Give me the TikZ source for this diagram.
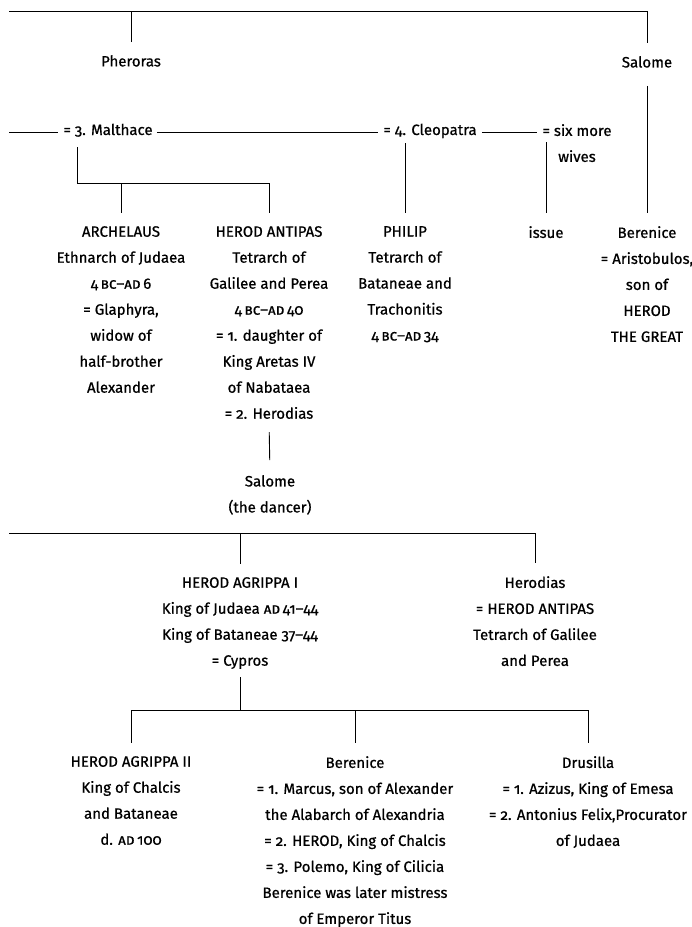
\documentclass[tikz,border=0pt]{standalone}
\usepackage{fontspec}
\setmainfont{Fira Sans}[Numbers=OldStyle, FakeBold=0.7]
\usetikzlibrary{calc}

\begin{document}
\begin{tikzpicture}[x=1pt, y=-1pt,
    person/.style={align=center, anchor=north, inner sep=0pt,
                   font=\fontsize{15}{26}\selectfont},
    spouse/.style={anchor=base, inner sep=0pt,
                   font=\fontsize{15}{26}\selectfont},
    kin/.style={line width=0.9pt},
    tonode/.style={kin, shorten >=13pt}
]
\useasboundingbox (0,0) rectangle (692,927);

% --- first generation ---
\coordinate (tl) at (9,11);
\node[person] (pheroras) at (131,55) {Pheroras};
\node[person] (salome)   at (647,56) {Salome};

% --- wives ---
\coordinate (ml) at (9,132);
\node[spouse] (malthace) at (108,135) {= 3. Malthace};
\node[spouse] (cleo)     at (430,135) {= 4. Cleopatra};
\node[person] (sixmore)  at (577,124) {= six more\\wives};

% --- children ---
\node[person] (archelaus) at (121,226)
  {ARCHELAUS\\Ethnarch of Judaea\\4\,\textsc{bc}--\textsc{ad}\,6\\= Glaphyra,\\
   widow of\\half-brother\\Alexander};
\node[person] (antipas)   at (269,226)
  {HEROD ANTIPAS\\Tetrarch of\\Galilee and Perea\\4\,\textsc{bc}--\textsc{ad}\,40\\
   = 1. daughter of\\King Aretas IV\\of Nabataea\\= 2. Herodias};
\node[person] (philip)    at (405,226)
  {PHILIP\\Tetrarch of\\Bataneae and\\Trachonitis\\4\,\textsc{bc}--\textsc{ad}\,34};
\node[person] (issue)     at (546,226) {issue};
\node[person] (berenice)  at (647,226)
  {Berenice\\= Aristobulos,\\son of\\HEROD\\THE GREAT};

\node[person] (dancer) at (270,475) {Salome\\(the dancer)};

% --- next generation ---
\coordinate (dl) at (9,533);
\node[person] (agrippa)  at (240,577)
  {HEROD AGRIPPA I\\King of Judaea \textsc{ad}\,41--44\\King of Bataneae 37--44\\= Cypros};
\node[person] (herodias) at (535,576)
  {Herodias\\= HEROD ANTIPAS\\Tetrarch of Galilee\\and Perea};

\coordinate (jc) at (240,710);
\node[person] (agrippatwo) at (131,756)
  {HEROD AGRIPPA II\\King of Chalcis\\and Bataneae\\d. \textsc{ad}\,100};
\node[person] (berenicetwo) at (355,756)
  {Berenice\\= 1. Marcus, son of Alexander\\the Alabarch of Alexandria\\
   = 2. HEROD, King of Chalcis\\= 3. Polemo, King of Cilicia\\
   Berenice was later mistress\\of Emperor Titus};
\node[person] (drusilla) at (588,756)
  {Drusilla\\= 1. Azizus, King of Emesa\\= 2. Antonius Felix,Procurator\\of Judaea};

% --- lines ---
\draw[tonode] (tl) -| (salome.north);
\draw[kin, shorten <=13pt] (pheroras.north) -- (pheroras.north |- tl);
\draw[kin, shorten <=18pt, shorten >=13pt] (salome.south) -- (berenice.north);

\draw[kin, shorten >=5pt] (ml) -- (malthace.west |- ml);
\draw[kin, shorten <=4pt, shorten >=5pt] (malthace.east |- ml) -- (cleo.west |- ml);
\draw[kin, shorten <=5pt, shorten >=5pt] (cleo.east |- ml) -- (sixmore.west |- ml);

\coordinate (jm) at (77,183);
\draw[tonode, shorten <=15pt] (jm |- ml) -- (jm) -| (antipas.north);
\draw[tonode] (jm -| archelaus.north) -- (archelaus.north);
\draw[tonode, shorten <=11pt] (philip.north |- ml) -- (philip.north);
\draw[tonode, shorten <=10pt] (issue.north |- ml) -- (issue.north);

\draw[tonode, shorten <=13pt, shorten >=15pt] (antipas.south) -- (dancer.north);

\draw[tonode] (dl) -| (herodias.north);
\draw[tonode] (agrippa.north |- dl) -- (agrippa.north);

\draw[kin, shorten <=8pt] (agrippa.south) -- (jc);
\draw[tonode] (jc) -| (agrippatwo.north);
\draw[tonode] (jc) -| (drusilla.north);
\draw[tonode] (berenicetwo.north |- jc) -- (berenicetwo.north);

\end{tikzpicture}
\end{document}
